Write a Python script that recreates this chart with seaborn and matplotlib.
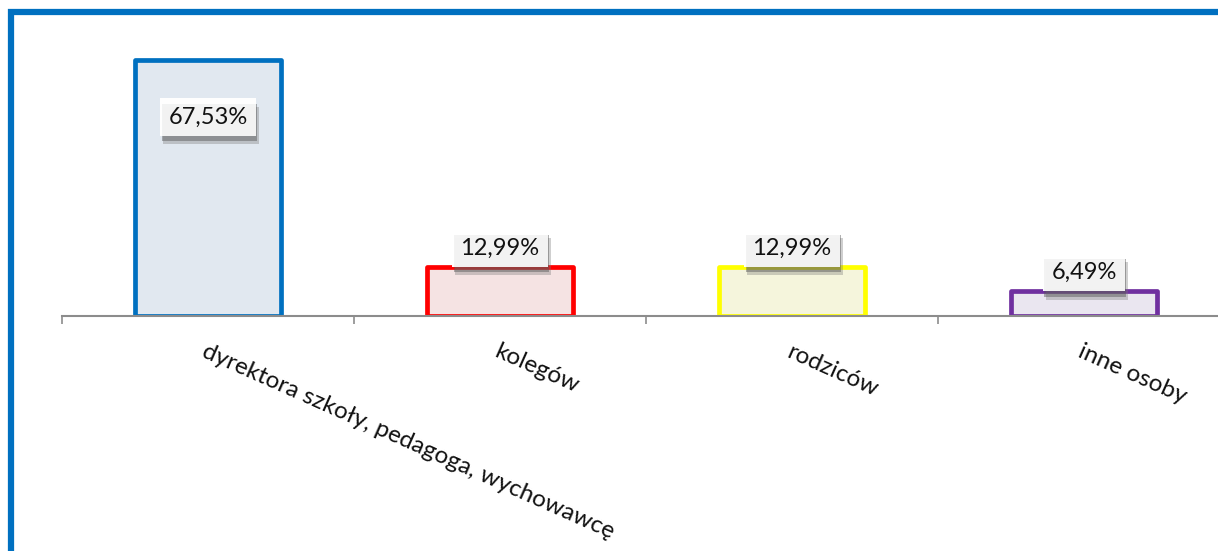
import matplotlib.pyplot as plt
import matplotlib.patheffects as pe
from matplotlib.patches import Rectangle
import seaborn as sns
import pandas as pd

categories = ['dyrektora szkoły, pedagoga, wychowawcę', 'kolegów', 'rodziców', 'inne osoby']
values = [67.53, 12.99, 12.99, 6.49]
labels = ['67,53%', '12,99%', '12,99%', '6,49%']
edge_colors = ['#0070C0', '#FF0000', '#FFFF00', '#7030A0']
fill_colors = ['#E1E8F0', '#F5E3E3', '#F5F5DC', '#EAE6F0']

sns.set_style('white')
plt.rcParams['font.family'] = ['Lato', 'DejaVu Sans']

df = pd.DataFrame({'kat': categories, 'val': values})

fig = plt.figure(figsize=(12.18, 5.51), dpi=100)
ax = fig.add_axes([62 / 1218, 235 / 551, 1168 / 1218, 296 / 551])

sns.barplot(data=df, x='kat', y='val', hue='kat', palette=fill_colors,
            width=0.5, legend=False, ax=ax, saturation=1)

for bar, ec in zip(ax.patches, edge_colors):
    bar.set_edgecolor(ec)
    bar.set_linewidth(3.4)
    bar.set_joinstyle('round')

ax.set_xlim(-0.5, 3.5)
ax.set_ylim(0, 78.1)
ax.set_xlabel('')
ax.set_ylabel('')
ax.set_yticks([])

for s in ['top', 'right', 'left']:
    ax.spines[s].set_visible(False)
ax.spines['bottom'].set_color('#8C8C8C')
ax.spines['bottom'].set_linewidth(1.5)

# tick marks on category boundaries, labels at category centres
ax.set_xticks([-0.5, 0.5, 1.5, 2.5])
ax.set_xticklabels([])
ax.tick_params(axis='x', which='major', direction='out', length=6, width=1.2,
               color='#8C8C8C', bottom=True)
for i, cat in enumerate(categories):
    ax.annotate(cat, xy=(i, 0), xycoords=('data', 'axes fraction'),
                xytext=(0, -18), textcoords='offset points',
                rotation=-24, rotation_mode='anchor', ha='left', va='top',
                fontsize=17.5, color='#111111')

# data labels with a white box and soft drop shadow
for i, (v, lab) in enumerate(zip(values, labels)):
    off = -41 if v > 50 else 13.5
    t = ax.annotate(lab, xy=(i, v), xytext=(0, off), textcoords='offset points',
                    ha='center', va='center', fontsize=17, color='#111111',
                    bbox=dict(boxstyle='square,pad=0.35', fc='white', ec='none', alpha=0.85))
    t.get_bbox_patch().set_path_effects([
        pe.withSimplePatchShadow(offset=(2, -6), shadow_rgbFace='#777777', alpha=0.35),
        pe.withSimplePatchShadow(offset=(1, -4), shadow_rgbFace='#555555', alpha=0.45)])

# outer blue frame of the chart area (cropped on the right and bottom)
fig.patches.append(Rectangle((11 / 1218, -0.2), 1.3, (551 - 12) / 551 + 0.2,
                             transform=fig.transFigure, fill=False,
                             edgecolor='#0070C0', linewidth=4.5, zorder=10))

fig.savefig('out.png', dpi=100)
